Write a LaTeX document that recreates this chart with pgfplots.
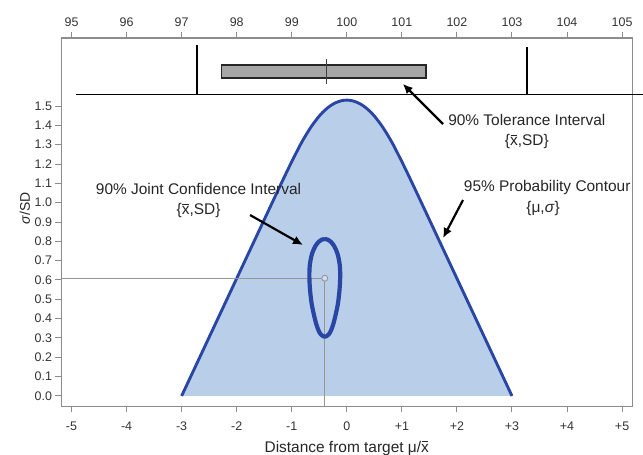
\documentclass[border=0pt]{standalone}
\usepackage{fontspec}
\setmainfont{Liberation Sans}
\usepackage{pgfplots}
\pgfplotsset{compat=1.18}
\usetikzlibrary{arrows.meta}
\definecolor{cfill}{RGB}{185,206,233}
\definecolor{cline}{RGB}{42,70,165}
\definecolor{framec}{RGB}{140,140,140}
\definecolor{boxgray}{RGB}{166,166,166}
\definecolor{guide}{RGB}{150,150,150}
\newcommand{\xbar}{\leavevmode\hbox{\ooalign{x\cr\hidewidth\rule[0.62em]{0.44em}{0.065em}\hidewidth\cr}}}
\newcommand{\annfont}{\fontsize{15.5}{18}\selectfont}
\begin{document}
\begin{tikzpicture}
\useasboundingbox (0,0) rectangle (643bp,455bp);
% top axis (original units)
\begin{axis}[
  at={(61.5bp,49bp)}, anchor=south west,
  scale only axis, width=570.5bp, height=368bp,
  xmin=94.818, xmax=105.18, ymin=0, ymax=1,
  axis line style={framec, line width=1pt},
  tick style={framec, line width=1pt},
  tick align=outside, major tick length=6bp,
  xtick={95,96,97,98,99,100,101,102,103,104,105},
  xtick pos=upper, xticklabel pos=upper,
  ytick=\empty,
  /pgf/number format/assume math mode=true,
  ticklabel style={font=\fontsize{12.5}{14}\selectfont, text=black!80},
  xticklabel style={yshift=1.5bp},
]
\end{axis}
% main axis
\begin{axis}[
  at={(61.5bp,49bp)}, anchor=south west,
  scale only axis, width=570.5bp, height=368bp,
  xmin=-5.182, xmax=5.18, ymin=-0.052, ymax=1.852,
  clip=false,
  axis line style={framec, line width=1pt},
  tick style={framec, line width=1pt},
  tick align=outside, major tick length=6bp,
  xtick={-5,-4,-3,-2,-1,0,1,2,3,4,5},
  xticklabels={-5,-4,-3,-2,-1,0,+1,+2,+3,+4,+5},
  xtick pos=lower, ytick pos=left,
  ytick={0,0.1,0.2,0.3,0.4,0.5,0.6,0.7,0.8,0.9,1.0,1.1,1.2,1.3,1.4,1.5},
  yticklabel style={/pgf/number format/fixed, /pgf/number format/fixed zerofill, /pgf/number format/precision=1},
  /pgf/number format/assume math mode=true,
  ticklabel style={font=\fontsize{12.5}{14}\selectfont, text=black!80},
  xticklabel style={yshift=-6bp},
  xlabel={Distance from target μ/\xbar},
  xlabel style={at={(axis description cs:0.5,-0.125)}, anchor=base, font=\fontsize{15.5}{18}\selectfont, text=black!85},
  ylabel={\textit{σ}/SD},
  ylabel style={at={(axis description cs:-0.064,0.538)}, anchor=center, font=\fontsize{14}{16}\selectfont, text=black!85},
]
% 95% probability contour (fill)
\addplot[draw=none, fill=cfill, smooth] coordinates {
(-3,0) (-2.671,0.2) (-2.342,0.4) (-2.013,0.6) (-1.684,0.8) (-1.355,1.0) (-1.19,1.1) (-1.021,1.2) (-0.843,1.3) (-0.742,1.35) (-0.63,1.4) (-0.495,1.45) (-0.392,1.48) (-0.305,1.5) (-0.25,1.51) (-0.2,1.5174) (-0.1,1.5273) (0,1.5306)
(0.1,1.5273) (0.2,1.5174) (0.25,1.51) (0.305,1.5) (0.392,1.48) (0.495,1.45) (0.63,1.4) (0.742,1.35) (0.843,1.3) (1.021,1.2) (1.19,1.1) (1.355,1.0) (1.684,0.8) (2.013,0.6) (2.342,0.4) (2.671,0.2) (3,0)
};
% outline
\addplot[cline, line width=2.9pt, smooth, line join=round] coordinates {
(-3,0) (-2.671,0.2) (-2.342,0.4) (-2.013,0.6) (-1.684,0.8) (-1.355,1.0) (-1.19,1.1) (-1.021,1.2) (-0.843,1.3) (-0.742,1.35) (-0.63,1.4) (-0.495,1.45) (-0.392,1.48) (-0.305,1.5) (-0.25,1.51) (-0.2,1.5174) (-0.1,1.5273) (0,1.5306)
(0.1,1.5273) (0.2,1.5174) (0.25,1.51) (0.305,1.5) (0.392,1.48) (0.495,1.45) (0.63,1.4) (0.742,1.35) (0.843,1.3) (1.021,1.2) (1.19,1.1) (1.355,1.0) (1.684,0.8) (2.013,0.6) (2.342,0.4) (2.671,0.2) (3,0)
};
% guide lines to estimate
\addplot[guide, line width=0.9pt] coordinates {(-5.182,0.609) (-0.40,0.609) (-0.40,-0.052)};
% 90% joint confidence region
\addplot[cline, line width=4.2pt, smooth, line join=round] coordinates {
(-0.40,0.812) (-0.34,0.808) (-0.287,0.797) (-0.233,0.777) (-0.187,0.75) (-0.154,0.72) (-0.129,0.68) (-0.12,0.636) (-0.123,0.59) (-0.135,0.54) (-0.16,0.48) (-0.195,0.43) (-0.24,0.377) (-0.285,0.34) (-0.33,0.318) (-0.40,0.306)
(-0.47,0.318) (-0.515,0.34) (-0.56,0.377) (-0.605,0.43) (-0.64,0.48) (-0.665,0.54) (-0.677,0.59) (-0.68,0.636) (-0.671,0.68) (-0.646,0.72) (-0.613,0.75) (-0.567,0.777) (-0.513,0.797) (-0.46,0.808) (-0.40,0.812)
};
% estimate point
\addplot[only marks, mark=*, mark size=3pt, mark options={fill=cfill!70!white, draw=guide, line width=0.9pt}] coordinates {(-0.40,0.609)};
% tolerance interval panel
\addplot[black, line width=1.5pt] coordinates {(-4.92,1.5595) (5.4,1.5595)};
\addplot[black, line width=2.2pt] coordinates {(-2.726,1.5595) (-2.726,1.816)};
\addplot[black, line width=2.2pt] coordinates {(3.274,1.5595) (3.274,1.805)};
\addplot[fill=boxgray, draw=black!85, line width=1.5pt] coordinates {(-2.272,1.645) (1.44,1.645) (1.44,1.712) (-2.272,1.712)} -- cycle;
\addplot[black!75, line width=1pt] coordinates {(-0.37,1.614) (-0.37,1.743)};
% arrows
\draw[-{Latex[length=10bp,width=9bp]}, line width=2.2pt] (axis cs:1.748,1.407) -- (axis cs:1.016,1.615);
\draw[-{Latex[length=10bp,width=9bp]}, line width=2.2pt] (axis cs:2.111,1.014) -- (axis cs:1.748,0.817);
\draw[-{Latex[length=10bp,width=9bp]}, line width=2.2pt] (axis cs:-1.757,0.936) -- (axis cs:-0.795,0.781);
% annotations
\node[font=\annfont, text=black!85] at (axis cs:3.27,1.428) {90\% Tolerance Interval};
\node[font=\annfont, text=black!85] at (axis cs:3.27,1.314) {\{\xbar,SD\}};
\node[font=\annfont, text=black!85] at (axis cs:3.64,1.081) {95\% Probability Contour};
\node[font=\annfont, text=black!85] at (axis cs:3.565,0.972) {\{μ,\textit{σ}\}};
\node[font=\annfont, text=black!85] at (axis cs:-2.693,1.071) {90\% Joint Confidence Interval};
\node[font=\annfont, text=black!85] at (axis cs:-2.693,0.957) {\{\xbar,SD\}};
\end{axis}
\end{tikzpicture}
\end{document}
